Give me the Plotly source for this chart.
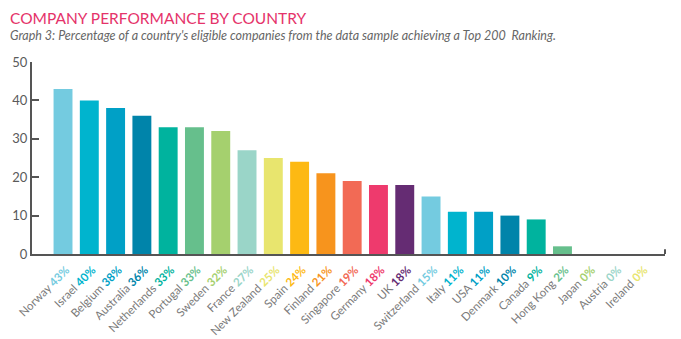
import plotly.graph_objects as go

countries = ["Norway", "Israel", "Belgium", "Australia", "Netherlands", "Portugal", "Sweden",
             "France", "New Zealand", "Spain", "Finland", "Singapore", "Germany", "UK",
             "Switzerland", "Italy", "USA", "Denmark", "Canada", "Hong Kong", "Japan",
             "Austria", "Ireland"]
values = [43, 40, 38, 36, 33, 33, 32, 27, 25, 24, 21, 19, 18, 18, 15, 11, 11, 10, 9, 2, 0, 0, 0]
colors = ["#74CBE0", "#00B4CE", "#00A0C6", "#0084AA", "#00B39E", "#66BF8C", "#A5D06E",
          "#9AD5C8", "#E8E56E", "#FDB913", "#F7941D", "#F26A55", "#EE3A6D", "#652C73",
          "#74CBE0", "#00B4CE", "#00A0C6", "#0084AA", "#00B39E", "#66BF8C", "#A5D06E",
          "#9AD5C8", "#E8E56E"]
y_ticks = [0, 10, 20, 30, 40, 50]

W, H = 681, 339
ML, MR, MT, MB = 32, 16, 62, 85
FONT = "Lato"

ticktext = [f"{c} <b><span style='color:{col}'>{v}%</span></b>"
            for c, v, col in zip(countries, values, colors)]

fig = go.Figure(go.Bar(
    x=list(range(len(countries))), y=values,
    marker=dict(color=colors, line=dict(width=0)),
    width=0.72,
))

fig.update_layout(
    width=W, height=H,
    margin=dict(l=ML, r=MR, t=MT, b=MB),
    paper_bgcolor="white", plot_bgcolor="white",
    showlegend=False,
    font=dict(family=FONT, color="#666666"),
    xaxis=dict(
        range=[-1.18, 22.9], automargin=False,
        tickmode="array", tickvals=list(range(len(countries))), ticktext=ticktext,
        tickangle=-45, tickfont=dict(size=11.5, color="#7a7a7a", family=FONT),
        ticklabelstandoff=3, ticklabelshift=3,
        showline=True, linecolor="#555555", linewidth=2,
        ticks="", showgrid=False, zeroline=False,
    ),
    yaxis=dict(
        range=[0, 50], tickmode="array", tickvals=y_ticks, automargin=False,
        tickfont=dict(size=13, color="#5a5a5a", family=FONT),
        showline=True, linecolor="#555555", linewidth=2,
        ticks="inside", ticklen=7, tickcolor="#555555", tickwidth=1.5,
        showgrid=False, zeroline=False,
    ),
)

fig.add_shape(type="line", xref="paper", yref="paper", x0=1, x1=1, y0=0, y1=0.025,
              line=dict(color="#555555", width=2))

pw = W - ML - MR
ph = H - MT - MB
def px_to_paper_x(px):
    return (px - ML) / pw
def px_to_paper_y(py):
    return (H - MB - py) / ph

fig.add_annotation(text="COMPANY PERFORMANCE BY COUNTRY", xref="paper", yref="paper",
                   x=px_to_paper_x(8), y=px_to_paper_y(18), xanchor="left", yanchor="middle",
                   showarrow=False, font=dict(size=15.5, color="#E5336A", family=FONT))
fig.add_annotation(text="<i>Graph 3: Percentage of a country's eligible companies from the data sample achieving a Top 200  Ranking.</i>",
                   xref="paper", yref="paper",
                   x=px_to_paper_x(8), y=px_to_paper_y(36), xanchor="left", yanchor="middle",
                   showarrow=False, font=dict(size=12.5, color="#666666", family=FONT))

fig.write_html("out.html")
